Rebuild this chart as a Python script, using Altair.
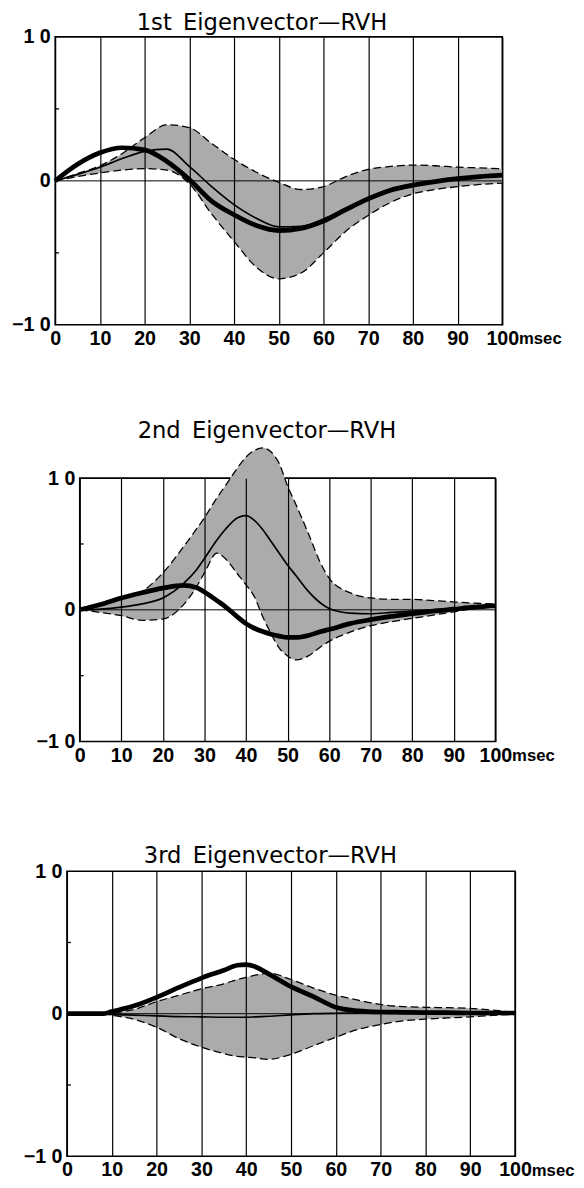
import altair as alt
import pandas as pd

TITLES = ["1st\u2002Eigenvector\u2014RVH", "2nd\u2002Eigenvector\u2014RVH", "3rd\u2002Eigenvector\u2014RVH"]
X_TICKS = [0, 10, 20, 30, 40, 50, 60, 70, 80, 90, 100]
Y_LABELS = [-10, 0, 10]
MINOR_Y = [-5, 5]

# ---- panel 1 ----
P1_X = [0, 5, 10, 15, 20, 25, 30, 35, 40, 45, 50, 55, 60, 65, 70, 75, 80, 85, 90, 95, 100]
P1_THICK = [0, 1.15, 1.95, 2.3, 2.15, 1.35, 0.1, -1.4, -2.35, -3.1, -3.45, -3.3, -2.8, -2.0, -1.25, -0.65, -0.3, -0.05, 0.15, 0.3, 0.4]
P1_THIN = [0, 0.45, 0.95, 1.55, 2.05, 2.2, 1.0, -0.4, -1.65, -2.6, -3.2, -3.15, -2.65, -1.9, -1.15, -0.6, -0.25, -0.05, 0.1, 0.25, 0.35]
P1_LO = [0, 0.3, 0.55, 0.75, 0.85, 0.75, -0.2, -2.3, -4.2, -6.0, -6.8, -6.4, -5.0, -3.5, -2.4, -1.5, -0.9, -0.6, -0.4, -0.25, -0.15]
P1_HI = [0, 0.5, 1.05, 1.9, 3.0, 3.9, 3.7, 2.6, 1.5, 0.6, -0.1, -0.6, -0.4, 0.3, 0.8, 1.0, 1.1, 1.05, 0.95, 0.9, 0.85]

# ---- panel 2 ----
P2_X = [0, 5, 10, 15, 20, 25, 28, 30, 33, 35, 38, 40, 42, 44, 46, 48, 50, 52, 55, 58, 60, 65, 70, 75, 80, 85, 90, 95, 100]
P2_THICK = [0, 0.4, 0.9, 1.3, 1.65, 1.85, 1.7, 1.35, 0.7, 0.25, -0.55, -1.05, -1.4, -1.65, -1.85, -2.0, -2.1, -2.1, -1.95, -1.65, -1.5, -1.05, -0.75, -0.5, -0.3, -0.1, 0.05, 0.2, 0.3]
P2_THIN = [0, 0.05, 0.2, 0.45, 0.9, 2.0, 3.0, 3.9, 5.3, 6.1, 7.0, 7.15, 6.8, 6.1, 5.2, 4.3, 3.4, 2.6, 1.4, 0.5, 0.1, -0.25, -0.3, -0.2, -0.1, 0.0, 0.1, 0.2, 0.3]
P2_LO = [0, -0.2, -0.45, -0.8, -0.7, 0.4, 1.7, 2.8, 4.3, 3.9, 2.7, 1.9, 1.0, -0.5, -1.8, -2.9, -3.5, -3.8, -3.5, -2.8, -2.4, -1.7, -1.2, -0.9, -0.65, -0.4, -0.15, 0.1, 0.25]
P2_HI = [0, 0.4, 0.85, 1.4, 2.8, 4.8, 6.1, 7.0, 8.5, 9.4, 10.8, 11.6, 12.1, 12.3, 12.0, 11.1, 9.4, 8.0, 5.8, 3.5, 2.4, 1.3, 0.9, 0.8, 0.8, 0.7, 0.6, 0.5, 0.45]

# ---- panel 3 ----
P3_X = [0, 5, 8, 10, 15, 20, 25, 30, 35, 38, 40, 42, 45, 50, 55, 60, 65, 70, 75, 80, 85, 90, 95, 100]
P3_THICK = [0, 0, 0, 0.15, 0.55, 1.15, 1.85, 2.5, 3.05, 3.4, 3.45, 3.3, 2.8, 1.9, 1.2, 0.45, 0.2, 0.12, 0.1, 0.08, 0.07, 0.05, 0.05, 0.05]
P3_THIN = [0, 0, 0, -0.05, -0.1, -0.15, -0.2, -0.22, -0.25, -0.25, -0.25, -0.22, -0.18, -0.08, 0, 0.03, 0.05, 0.05, 0.05, 0.05, 0.04, 0.03, 0.02, 0]
P3_LO = [0, 0, 0, -0.1, -0.4, -0.95, -1.75, -2.35, -2.8, -3.0, -3.05, -3.1, -3.2, -2.85, -2.25, -1.65, -1.1, -0.75, -0.5, -0.38, -0.3, -0.22, -0.12, -0.05]
P3_HI = [0, 0, 0, 0.05, 0.3, 0.85, 1.3, 1.75, 2.1, 2.4, 2.55, 2.7, 2.85, 2.4, 1.8, 1.3, 0.95, 0.65, 0.5, 0.45, 0.42, 0.38, 0.25, 0.1]

LABEL_FONT = "Liberation Sans, Arial, sans-serif"
TITLE_FONT = "DejaVu Sans"
BAND_GRAY = "#ababab"
LABEL_SIZE = 20


def spacer(w, h):
    return alt.Chart(pd.DataFrame({"a": [0]})).mark_point(size=0, opacity=0, strokeWidth=0).encode(
        x=alt.value(0), y=alt.value(0)
    ).properties(width=w, height=h, view=alt.ViewConfig(stroke="transparent", strokeWidth=0))


def panel(title, xs, thick, thin, lo, hi, w, h, title_dy, title_dx):
    df = pd.DataFrame({"x": xs, "thick": thick, "thin": thin, "lo": lo, "hi": hi})
    xs_ = alt.Scale(domain=[0, 100], nice=False, zero=False)
    ys_ = alt.Scale(domain=[-10, 10], nice=False, zero=False)
    xaxis = alt.Axis(values=X_TICKS, grid=True, gridColor="black", gridWidth=1.2, gridOpacity=1,
                     ticks=False, tickSize=0, domain=False, labelFont=LABEL_FONT, labelFontSize=LABEL_SIZE,
                     labelFontWeight="bold", labelColor="black", labelPadding=4, title=None,
                     zindex=1, minExtent=24, maxExtent=24, labelFlush=False, labelOverlap=False)
    yaxis = alt.Axis(values=Y_LABELS, grid=False, ticks=False, tickSize=0, domain=False,
                     labelFont=LABEL_FONT, labelFontSize=LABEL_SIZE, labelFontWeight="bold", labelColor="black",
                     labelPadding=5, title=None, minExtent=46, maxExtent=46, labelFlush=False,
                     labelOverlap=False,
                     labelExpr="datum.value == 10 ? '1 0' : (datum.value == -10 ? '\u22121 0' : '0')")
    X = alt.X("x:Q", scale=xs_, axis=xaxis)
    base = alt.Chart(df)
    band = base.mark_area(color=BAND_GRAY, interpolate="monotone", opacity=1).encode(
        x=X, y=alt.Y("lo:Q", scale=ys_, axis=yaxis), y2="hi:Q")
    lo_line = base.mark_line(color="black", strokeWidth=1.3, strokeDash=[8, 4], interpolate="monotone").encode(
        x=X, y=alt.Y("lo:Q", scale=ys_, axis=yaxis))
    hi_line = base.mark_line(color="black", strokeWidth=1.3, strokeDash=[8, 4], interpolate="monotone").encode(
        x=X, y=alt.Y("hi:Q", scale=ys_, axis=yaxis))
    zero = alt.Chart(pd.DataFrame({"z": [0]})).mark_rule(color="black", strokeWidth=1).encode(
        y=alt.Y("z:Q", scale=ys_, axis=yaxis))
    thin_line = base.mark_line(color="black", strokeWidth=1.7, interpolate="monotone").encode(
        x=X, y=alt.Y("thin:Q", scale=ys_, axis=yaxis))
    thick_line = base.mark_line(color="black", strokeWidth=4.8, interpolate="monotone").encode(
        x=X, y=alt.Y("thick:Q", scale=ys_, axis=yaxis))
    minor = alt.Chart(pd.DataFrame({"m": MINOR_Y})).mark_rule(color="black", strokeWidth=1.3).encode(
        x=alt.value(0), x2=alt.value(4), y=alt.Y("m:Q", scale=ys_, axis=yaxis))
    msec = alt.Chart(pd.DataFrame({"t": ["msec"]})).mark_text(
        align="left", baseline="alphabetic", dx=17, dy=20, font=LABEL_FONT, fontSize=17,
        fontWeight="bold", color="black").encode(x=alt.datum(100), y=alt.datum(-10), text="t:N")
    ttl = alt.Chart(pd.DataFrame({"t": [title]})).mark_text(
        align="center", baseline="alphabetic", dx=title_dx, dy=title_dy, font=TITLE_FONT, fontSize=23,
        fontWeight="normal", color="black").encode(x=alt.datum(50), y=alt.datum(10), text="t:N")
    return alt.layer(band, lo_line, hi_line, zero, thin_line, thick_line, minor, msec, ttl).properties(
        width=w, height=h)


p1 = panel(TITLES[0], P1_X, P1_THICK, P1_THIN, P1_LO, P1_HI, 455, 293, -7, -17)
p2 = panel(TITLES[1], P2_X, P2_THICK, P2_THIN, P2_LO, P2_HI, 423, 268, -41, -21)
p3 = panel(TITLES[2], P3_X, P3_THICK, P3_THIN, P3_LO, P3_HI, 456, 290, -8, -21)

row1 = alt.hconcat(spacer(1, 1), p1, spacing=0)
row2 = alt.hconcat(spacer(26, 1), p2, spacing=0)
row3 = alt.hconcat(spacer(13, 1), p3, spacing=0)

chart = alt.vconcat(row1, spacer(1, 71), row2, spacer(1, 80), row3, spacing=0).properties(
    padding={"top": -7, "left": 0, "right": 0, "bottom": 0}).configure(
    background="white").configure_view(stroke="black", strokeWidth=1.6)

chart.save("out.html", embed_options={"renderer": "svg", "actions": False})
